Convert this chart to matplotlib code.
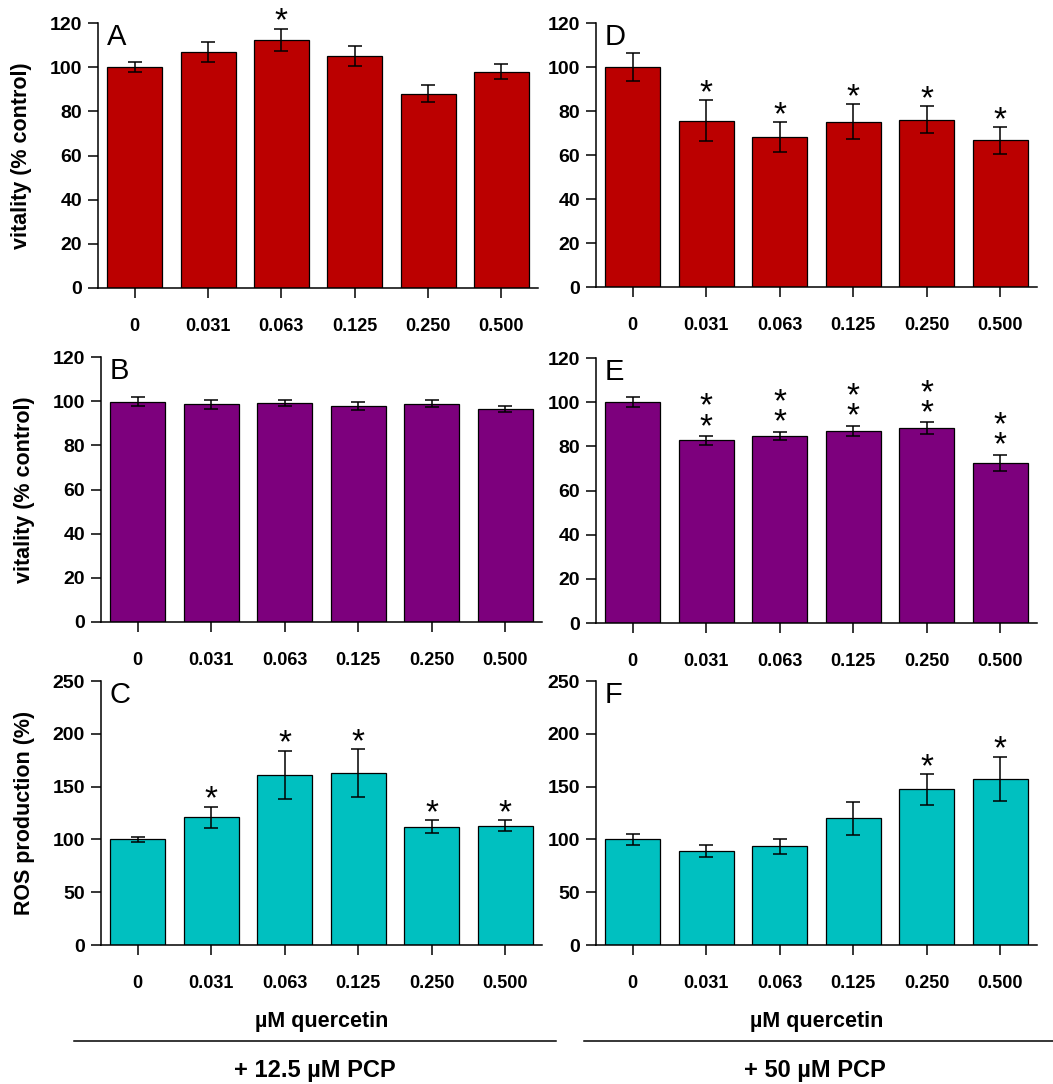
import matplotlib

matplotlib.use("Agg")
import matplotlib.pyplot as plt
from matplotlib.lines import Line2D

plt.rcParams["font.family"] = ["Liberation Sans", "DejaVu Sans"]

# quercetin concentrations (µM)
conc_labels = ["0", "0.031", "0.063", "0.125", "0.250", "0.500"]

# + 12.5 µM PCP
vit_a = [100, 107, 112.5, 105, 88, 98]
vit_a_err = [2.4, 4.6, 5.0, 4.5, 3.9, 3.4]
vit_b = [99.8, 98.6, 99.3, 98.0, 98.9, 96.5]
vit_b_err = [2.2, 2.0, 1.3, 1.8, 1.5, 1.5]
ros_c = [100, 121, 161, 163, 112, 113]
ros_c_err = [2.5, 10, 23, 22.7, 6, 5]

# + 50 µM PCP
vit_d = [100, 75.5, 68.2, 75.2, 76.1, 66.6]
vit_d_err = [6.5, 9.3, 6.8, 8.0, 6.0, 6.2]
vit_e = [100, 82.7, 84.7, 87.0, 88.3, 72.6]
vit_e_err = [2.3, 2.0, 2.0, 2.3, 2.7, 3.6]
ros_f = [100, 89, 93.5, 120, 147.5, 157.5]
ros_f_err = [5, 5.3, 7.2, 15.7, 14.5, 20.8]

# number of asterisks above each bar
sig_a = [0, 0, 1, 0, 0, 0]
sig_b = [0, 0, 0, 0, 0, 0]
sig_c = [0, 1, 1, 1, 1, 1]
sig_d = [0, 1, 1, 1, 1, 1]
sig_e = [0, 2, 2, 2, 2, 2]
sig_f = [0, 0, 0, 0, 1, 1]

RED = "#bb0000"
PURPLE = "#7d007d"
CYAN = "#00c0c0"

W, H = 1053, 1084
fig = plt.figure(figsize=(W / 100, H / 100), dpi=100)


def px_axes(left, right, top, bottom):
    return fig.add_axes([left / W, 1 - bottom / H, (right - left) / W, (bottom - top) / H])


def panel(ax, vals, errs, sig, color, letter, ymax, ystep, ylabel=None, xlabel=None):
    x = list(range(len(vals)))
    ax.bar(x, vals, width=0.75, color=color, edgecolor="black", linewidth=0.9, zorder=2)
    ax.errorbar(x, vals, yerr=errs, fmt="none", ecolor="black", elinewidth=1.1,
                capsize=5, capthick=1.1, zorder=3)
    for i, (v, e, n) in enumerate(zip(vals, errs, sig)):
        if n == 1:
            ax.annotate("*", (i, v + e), xytext=(0, -6.5), textcoords="offset points",
                        ha="center", va="bottom", fontsize=24)
        elif n == 2:
            ax.annotate("*\n*", (i, v + e), xytext=(0, -5), textcoords="offset points",
                        ha="center", va="bottom", fontsize=24, linespacing=0.55)
    ax.set_xlim(-0.5, 5.5)
    ax.set_ylim(0, ymax)
    ax.set_yticks(range(0, ymax + 1, ystep))
    ax.set_xticks(x)
    ax.set_xticklabels(conc_labels)
    for s in ("top", "right"):
        ax.spines[s].set_visible(False)
    for s in ("left", "bottom"):
        ax.spines[s].set_linewidth(1.1)
    ax.tick_params(axis="y", direction="out", length=7.5, width=1.1, pad=4,
                   labelsize=14)
    ax.tick_params(axis="x", direction="out", length=7.5, width=1.1, pad=14,
                   labelsize=13)
    for lab in ax.get_xticklabels() + ax.get_yticklabels():
        lab.set_fontweight("bold")
    ax.text(0.02, 1.0, letter, transform=ax.transAxes, ha="left", va="top",
            fontsize=21)
    if ylabel:
        ax.set_ylabel(ylabel, fontsize=15.5, fontweight="bold", va="center")
        ax.yaxis.set_label_coords(-0.173, 0.5)
    if xlabel:
        ax.set_xlabel(xlabel, fontsize=15.5, fontweight="bold", labelpad=14)


ax_a = px_axes(98, 538, 23, 288)
ax_b = px_axes(101, 542, 357, 622)
ax_c = px_axes(101, 542, 681, 945)
ax_d = px_axes(596, 1037, 23, 287)
ax_e = px_axes(596, 1037, 358, 623)
ax_f = px_axes(596, 1037, 681, 945)

panel(ax_a, vit_a, vit_a_err, sig_a, RED, "A", 120, 20, ylabel="vitality (% control)")
panel(ax_b, vit_b, vit_b_err, sig_b, PURPLE, "B", 120, 20, ylabel="vitality (% control)")
panel(ax_c, ros_c, ros_c_err, sig_c, CYAN, "C", 250, 50, ylabel="ROS production (%)",
      xlabel="µM quercetin")
panel(ax_d, vit_d, vit_d_err, sig_d, RED, "D", 120, 20)
panel(ax_e, vit_e, vit_e_err, sig_e, PURPLE, "E", 120, 20)
panel(ax_f, ros_f, ros_f_err, sig_f, CYAN, "F", 250, 50, xlabel="µM quercetin")

# group separators and treatment labels
y_line = 1 - 1041 / H
fig.add_artist(Line2D([74 / W, 556 / W], [y_line, y_line], color="black", linewidth=1.1))
fig.add_artist(Line2D([584 / W, 1.0], [y_line, y_line], color="black", linewidth=1.1))
fig.text(315 / W, 1 - 1070 / H, "+ 12.5 µM PCP", ha="center", va="center",
         fontsize=17, fontweight="bold")
fig.text(815 / W, 1 - 1070 / H, "+ 50 µM PCP", ha="center", va="center",
         fontsize=17, fontweight="bold")

fig.savefig("out.png", dpi=100)
plt.close(fig)
